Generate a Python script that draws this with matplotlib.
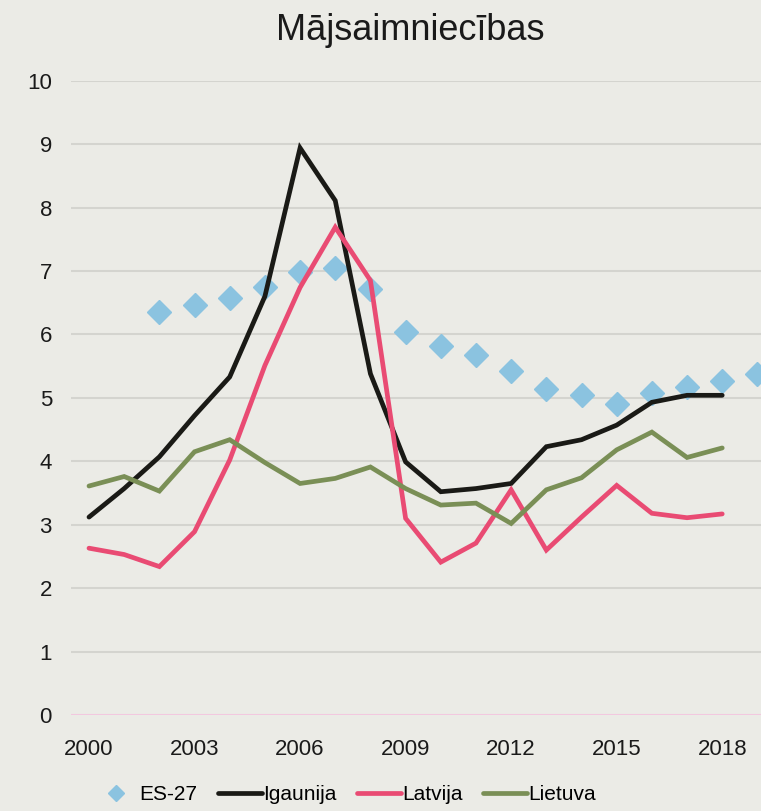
import matplotlib.pyplot as plt
from matplotlib.lines import Line2D

years = list(range(2000, 2020))
es27 = [None, None, 6.35, 6.47, 6.57, 6.75, 6.99, 7.05, 6.72, 6.04,
        5.81, 5.68, 5.43, 5.14, 5.04, 4.91, 5.07, 5.17, 5.26, 5.37]
igaunija = [3.12, 3.57, 4.07, 4.72, 5.33, 6.6, 8.94, 8.11, 5.38, 3.99,
            3.52, 3.57, 3.65, 4.23, 4.34, 4.57, 4.93, 5.04, 5.04]
latvija = [2.63, 2.53, 2.34, 2.89, 4.02, 5.51, 6.74, 7.69, 6.85, 3.10,
           2.41, 2.71, 3.55, 2.60, 3.12, 3.62, 3.18, 3.11, 3.17]
lietuva = [3.61, 3.76, 3.53, 4.15, 4.34, 3.98, 3.65, 3.73, 3.91, 3.57,
           3.31, 3.34, 3.02, 3.55, 3.74, 4.18, 4.46, 4.06, 4.21]
tick_years = [2000, 2003, 2006, 2009, 2012, 2015, 2018]

bg = '#EBEBE6'
c_es = '#8BC3E0'
c_ig = '#1A1A16'
c_lv = '#E94B73'
c_lt = '#7A8F56'

plt.rcParams['font.family'] = ['Liberation Sans', 'DejaVu Sans']

fig = plt.figure(figsize=(7.61, 8.11), dpi=100, facecolor=bg)
ax = fig.add_axes([71.4 / 761, 96 / 811, 703.6 / 761, 634.3 / 811])
ax.set_facecolor(bg)

x = list(range(len(years)))
es_x = [i for i, v in enumerate(es27) if v is not None]
es_y = [v for v in es27 if v is not None]
ax.plot(es_x, es_y, linestyle='none', marker='D', markersize=12,
        color=c_es, label='ES-27', zorder=3, clip_on=True)
ax.plot(x[:len(igaunija)], igaunija, color=c_ig, lw=3.4, label='Igaunija',
        solid_capstyle='round', solid_joinstyle='miter', zorder=4)
ax.plot(x[:len(latvija)], latvija, color=c_lv, lw=3.4, label='Latvija',
        solid_capstyle='round', solid_joinstyle='miter', zorder=4)
ax.plot(x[:len(lietuva)], lietuva, color=c_lt, lw=3.4, label='Lietuva',
        solid_capstyle='round', solid_joinstyle='miter', zorder=4)

ax.set_xlim(-0.5, len(years) - 0.5)
ax.set_ylim(0, 10)
ax.set_yticks(range(0, 11))
ax.set_xticks([years.index(y) for y in tick_years])
ax.set_xticklabels([str(y) for y in tick_years])
for yv in range(1, 11):
    ax.axhline(yv, color='#D4D4CF', lw=1.5, zorder=1)
ax.axhline(0, color='#F2C8DF', lw=1.5, zorder=1)
for s in ax.spines.values():
    s.set_visible(False)
ax.tick_params(length=0, labelsize=16, colors='#1A1A1A')
ax.tick_params(axis='y', pad=14)
ax.tick_params(axis='x', pad=17)

fig.text(410 / 761, 1 - 30 / 811, 'Mājsaimniecības', ha='center', va='center',
         fontsize=26, color='#1A1A1A')

handles = [
    Line2D([], [], linestyle='none', marker='D', markersize=8, color=c_es),
    Line2D([], [], color=c_ig, lw=3.4, solid_capstyle='round'),
    Line2D([], [], color=c_lv, lw=3.4, solid_capstyle='round'),
    Line2D([], [], color=c_lt, lw=3.4, solid_capstyle='round'),
]
fig.legend(handles, ['ES-27', 'Igaunija', 'Latvija', 'Lietuva'],
           loc='center', bbox_to_anchor=(345 / 761, 1 - 795 / 811), ncol=4,
           frameon=False, fontsize=15, handlelength=2.1, handletextpad=0.05,
           columnspacing=1.0)

fig.savefig('out.png', dpi=100, facecolor=bg)
